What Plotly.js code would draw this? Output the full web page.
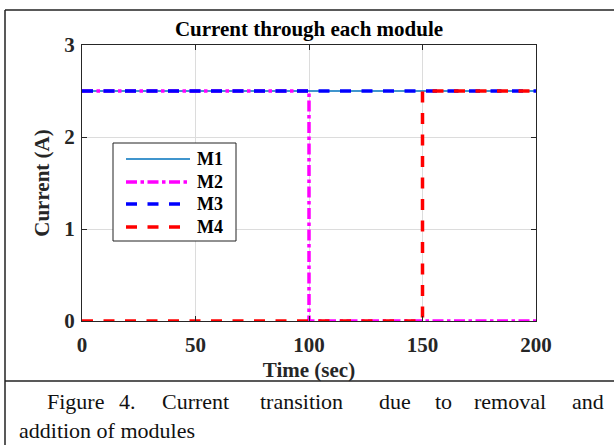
<!DOCTYPE html>
<html>
<head>
<meta charset="utf-8">
<script src="https://cdn.plot.ly/plotly-3.0.1.min.js"></script>
<style>html,body{margin:0;padding:0;background:#fff;}#chart{width:614px;height:445px;}</style>
</head>
<body>
<div id="chart"></div>
<script>
// ---- data ----
var seriesNames = ['M1', 'M2', 'M3', 'M4'];
var m1Time = [0, 200];
var m1Current = [2.5, 2.5];
var m2Time = [0, 100, 100, 200];
var m2Current = [2.5, 2.5, 0, 0];
var m3Time = [0, 200];
var m3Current = [2.5, 2.5];
var m4Time = [0, 150, 150, 200];
var m4Current = [0, 0, 2.5, 2.5];
var xTicks = [0, 50, 100, 150, 200];
var yTicks = [0, 1, 2, 3];
var captionLine1 = ['Figure', '4.', 'Current', 'transition', 'due', 'to', 'removal', 'and'];
var captionLine2 = 'addition of modules';

// ---- layout helpers (pixel -> paper) ----
var L = 82, R = 536, T = 45, B = 321;
function px(x) { return (x - L) / (R - L); }
function py(y) { return (B - y) / (B - T); }

var serif = 'Liberation Serif, Times New Roman, serif';
var dark = '#262626';

var styles = [
  {color: '#0072BD', width: 1.5, dash: 'solid'},
  {color: '#FF00FF', width: 3.5, dash: '11px,3.5px,3.5px,3.5px'},
  {color: '#0000FF', width: 3.5, dash: '11px,10.5px'},
  {color: '#FF0000', width: 3.5, dash: '11px,10.5px'}
];
var xs = [m1Time, m2Time, m3Time, m4Time];
var ys = [m1Current, m2Current, m3Current, m4Current];

var traces = seriesNames.map(function (n, i) {
  return {x: xs[i], y: ys[i], name: n, mode: 'lines', line: styles[i], showlegend: false};
});

var annotations = [];
var shapes = [];

// caption (justified line 1, left line 2)
var wordX1 = [45, 117, 160, 258, 377, 433, 472, 570];
var capFont = {family: serif, size: 22, color: '#111'};
captionLine1.forEach(function (w, i) {
  annotations.push({text: w, xref: 'paper', yref: 'paper', x: px(wordX1[i]), y: py(401),
    xanchor: 'left', yanchor: 'middle', showarrow: false, font: capFont});
});
annotations.push({text: captionLine2, xref: 'paper', yref: 'paper', x: px(17), y: py(430),
  xanchor: 'left', yanchor: 'middle', showarrow: false, font: capFont});

// outer frame of figure
var frame = {color: '#222', width: 1.5};
shapes.push(
  {type: 'line', xref: 'paper', yref: 'paper', x0: px(5), x1: px(640), y0: py(10), y1: py(10), line: frame},
  {type: 'line', xref: 'paper', yref: 'paper', x0: px(5), x1: px(5), y0: py(10), y1: py(460), line: frame},
  {type: 'line', xref: 'paper', yref: 'paper', x0: px(5), x1: px(640), y0: py(381), y1: py(381), line: frame}
);

// legend box
shapes.push({type: 'rect', xref: 'paper', yref: 'paper', x0: px(113), x1: px(236), y0: py(143), y1: py(241),
  fillcolor: '#fff', line: {color: '#222', width: 1}, layer: 'above'});
var legY = [159, 182, 204, 227];
seriesNames.forEach(function (n, i) {
  shapes.push({type: 'line', xref: 'paper', yref: 'paper', x0: px(126), x1: px(190),
    y0: py(legY[i]), y1: py(legY[i]), line: styles[i], layer: 'above'});
  annotations.push({text: '<b>' + n + '</b>', xref: 'paper', yref: 'paper', x: px(195), y: py(legY[i]),
    xanchor: 'left', yanchor: 'middle', showarrow: false,
    font: {family: serif, size: 18, color: '#000'}});
});

var axisCommon = {
  showline: true, linecolor: dark, linewidth: 1, mirror: 'ticks',
  ticks: 'inside', ticklen: 5, tickcolor: dark,
  showgrid: true, gridcolor: '#dcdcdc', gridwidth: 1, zeroline: false,
  tickfont: {family: serif, size: 21, color: dark, weight: 'bold'}
};

var layout = {
  width: 614, height: 445,
  margin: {l: L, r: 614 - R, t: T, b: 445 - B},
  paper_bgcolor: '#fff', plot_bgcolor: '#fff',
  showlegend: false,
  title: {text: '<b>Current through each module</b>', font: {family: serif, size: 21, color: '#000'},
    x: px(309), xref: 'paper', xanchor: 'center', yref: 'container', y: 1 - 29 / 445, yanchor: 'middle'},
  xaxis: Object.assign({}, axisCommon, {range: [0, 200], tickvals: xTicks, ticklabelstandoff: 5,
    title: {text: '<b>Time (sec)</b>', font: {family: serif, size: 21, color: dark}, standoff: 6}}),
  yaxis: Object.assign({}, axisCommon, {range: [0, 3], tickvals: yTicks, ticklabelstandoff: 2,
    title: {text: '<b>Current (A)</b>', font: {family: serif, size: 21, color: dark}, standoff: 8}}),
  annotations: annotations,
  shapes: shapes
};

Plotly.newPlot('chart', traces, layout, {staticPlot: true, displayModeBar: false});
</script>
</body>
</html>
